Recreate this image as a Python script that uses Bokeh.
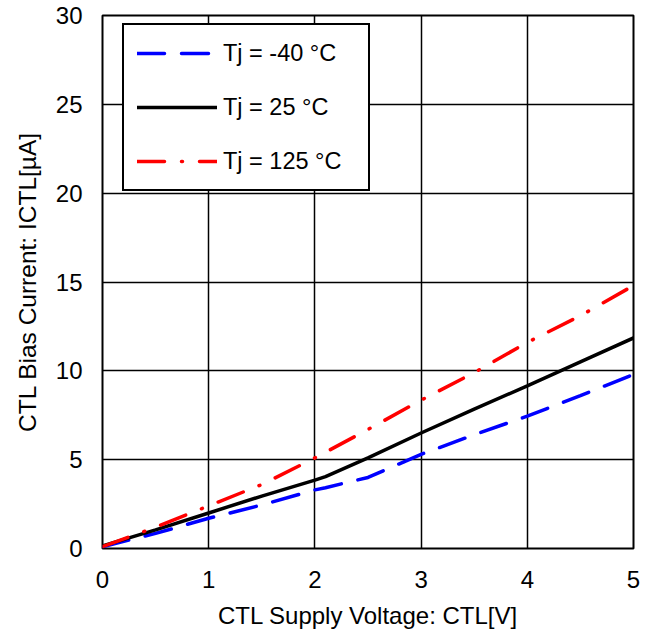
from bokeh.plotting import figure
from bokeh.models import Range1d, Legend, LegendItem, FixedTicker
from bokeh.embed import file_html
from bokeh.resources import INLINE

# Data
vctl = [0.0, 0.5, 1.0, 1.5, 2.0, 2.1, 2.5, 3.0, 3.5, 4.0, 4.5, 5.0]
i_m40 = [0.1, 0.85, 1.7, 2.45, 3.3, 3.42, 4.0, 5.3, 6.4, 7.45, 8.6, 9.8]
i_25 = [0.15, 1.05, 2.0, 2.95, 3.85, 4.05, 5.1, 6.5, 7.85, 9.15, 10.5, 11.85]
i_125 = [0.1, 1.2, 2.4, 3.6, 5.1, 5.42, 6.7, 8.35, 9.9, 11.6, 13.1, 14.8]

labels = ["Tj = -40 °C", "Tj = 25 °C", "Tj = 125 °C"]
x_ticks = [0, 1, 2, 3, 4, 5]
y_ticks = [0, 5, 10, 15, 20, 25, 30]

FONT = "Liberation Sans"

p = figure(width=648, height=635, output_backend="svg", toolbar_location=None,
           x_range=Range1d(0, 5), y_range=Range1d(0, 30),
           min_border_left=102, min_border_right=15, min_border_top=15, min_border_bottom=87)

p.background_fill_color = "white"
p.border_fill_color = "white"
p.outline_line_color = "black"
p.outline_line_width = 2
p.outline_line_alpha = 1

p.xaxis.ticker = FixedTicker(ticks=x_ticks)
p.yaxis.ticker = FixedTicker(ticks=y_ticks)
for ax in (p.xaxis, p.yaxis):
    ax.axis_line_color = None
    ax.major_tick_line_color = None
    ax.minor_tick_line_color = None
    ax.major_tick_in = 0
    ax.major_tick_out = 0
    ax.minor_tick_in = 0
    ax.minor_tick_out = 0
    ax.major_label_text_font = FONT
    ax.major_label_text_font_size = "24px"
    ax.major_label_text_color = "black"
    ax.axis_label_text_font = FONT
    ax.axis_label_text_font_style = "normal"
    ax.axis_label_text_color = "black"
p.xaxis.axis_label_text_font_size = "24px"
p.yaxis.axis_label_text_font_size = "24.5px"

p.xaxis.axis_label = "CTL Supply Voltage: CTL[V]"
p.yaxis.axis_label = "CTL Bias Current: ICTL[µA]"
p.xaxis.major_label_standoff = 22
p.yaxis.major_label_standoff = 20
p.xaxis.axis_label_standoff = 11
p.yaxis.axis_label_standoff = 12

for g in (p.xgrid, p.ygrid):
    g.grid_line_color = "black"
    g.grid_line_width = 1.5
    g.grid_line_alpha = 1
p.xgrid.ticker = FixedTicker(ticks=x_ticks)
p.ygrid.ticker = FixedTicker(ticks=y_ticks)

r1 = p.line(vctl, i_m40, line_color="#0000FF", line_width=3.5,
            line_dash="27 17", line_cap="round")
r2 = p.line(vctl, i_25, line_color="black", line_width=3.5, line_cap="round")
r3 = p.line(vctl, i_125, line_color="#FF0000", line_width=3.5,
            line_dash="27 17 1 17", line_cap="round")

legend = Legend(items=[LegendItem(label=labels[0], renderers=[r1]),
                       LegendItem(label=labels[1], renderers=[r2]),
                       LegendItem(label=labels[2], renderers=[r3])],
                location=(20, 357))
legend.border_line_color = "black"
legend.border_line_width = 2
legend.border_line_alpha = 1
legend.background_fill_color = "white"
legend.background_fill_alpha = 1
legend.padding = 13
legend.spacing = 24
legend.glyph_width = 80
legend.glyph_height = 30
legend.label_height = 30
legend.label_width = 132
legend.label_standoff = 6
legend.margin = 0
legend.label_text_font = FONT
legend.label_text_font_size = "23.5px"
legend.label_text_color = "black"
p.add_layout(legend)

open("out.html", "w").write(file_html(p, INLINE))
